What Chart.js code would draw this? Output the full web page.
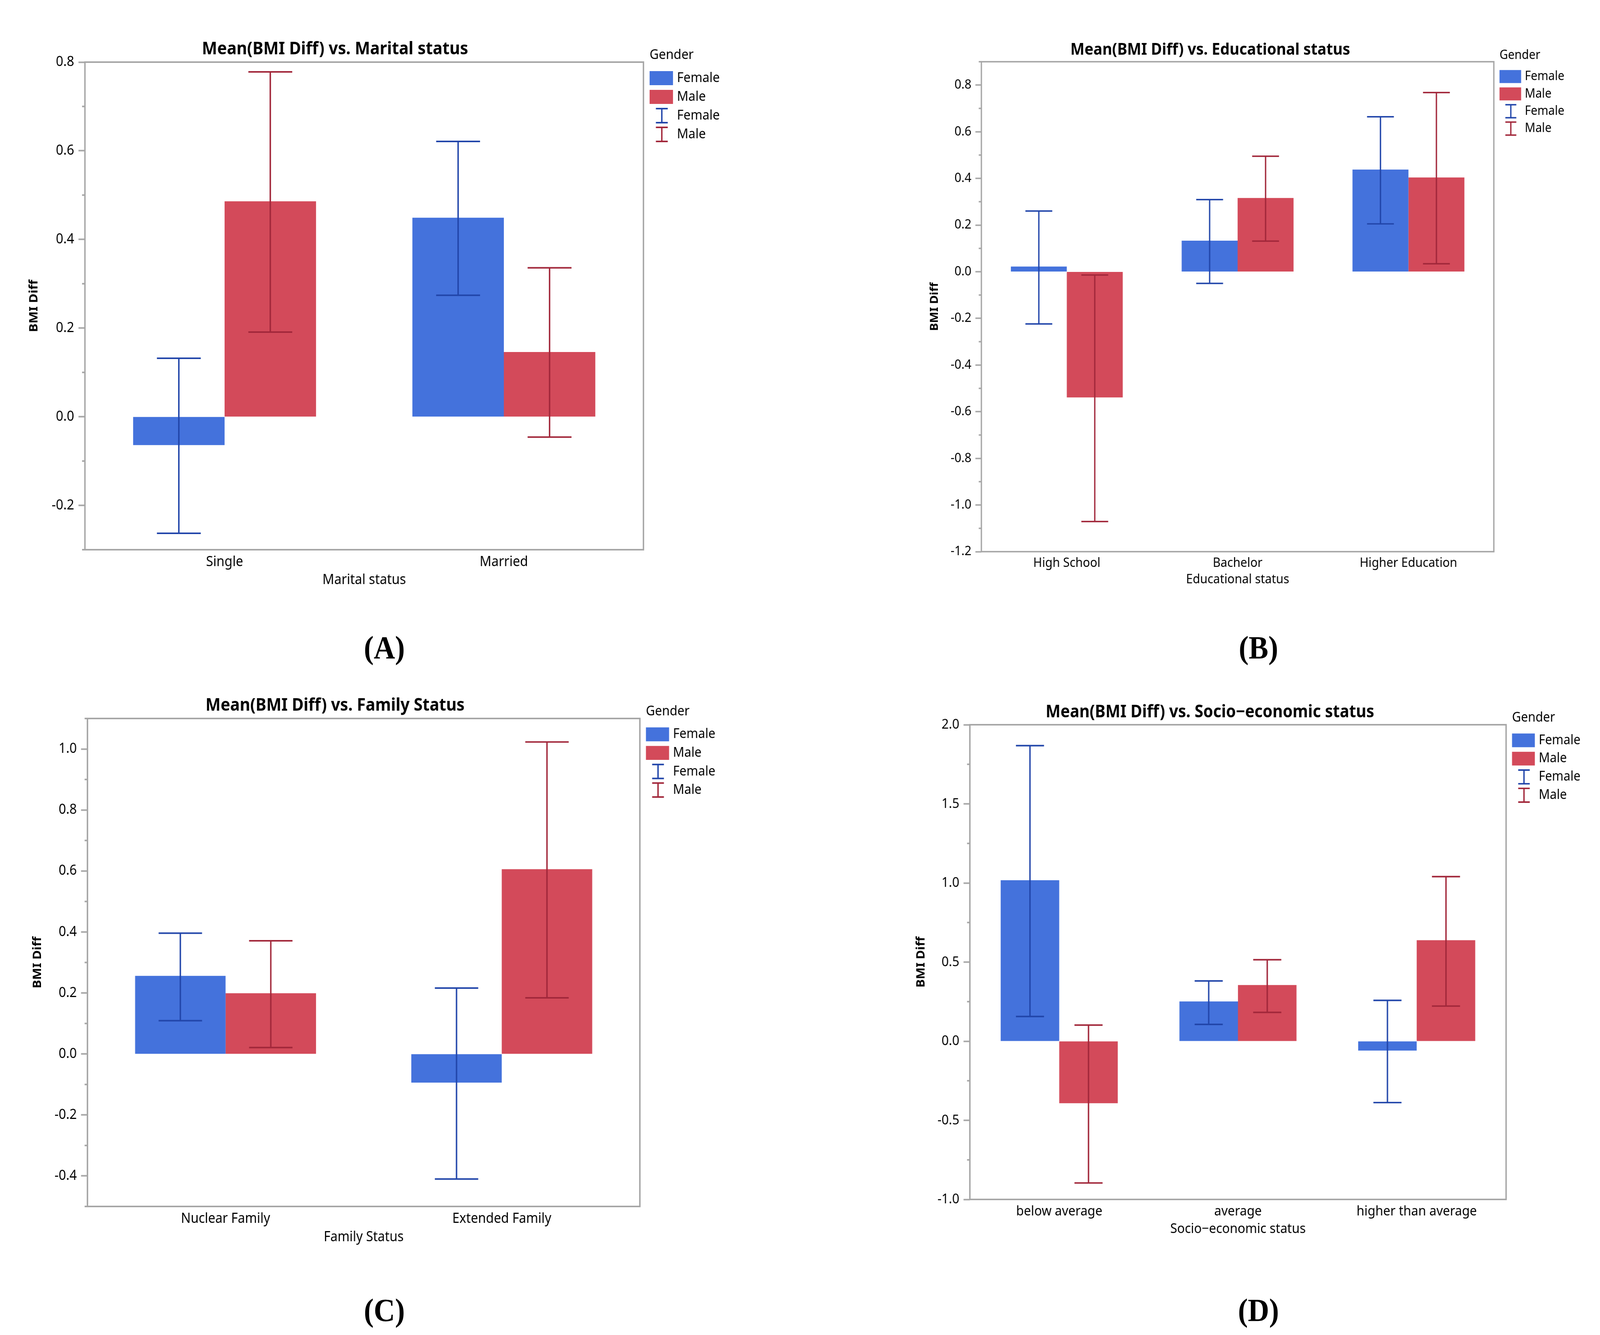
<!DOCTYPE html>
<html>
<head>
<meta charset="utf-8">
<script src="https://cdn.jsdelivr.net/npm/chart.js@4.4.1/dist/chart.umd.min.js"></script>
<style>
  html, body { margin: 0; padding: 0; background: #fff; overflow: hidden; }
  #outer { position: relative; overflow: hidden; background: #fff; }
  #page { width: 4446px; height: 3417px; position: absolute; left: 0; top: 0; transform-origin: 0 0; background: #fff; }
  .panel { position: absolute; }
  .tag { position: absolute; font: bold 82px "Liberation Serif", serif; line-height: 1; transform: translate(-50%, -50%); color: #000; }
</style>
</head>
<body>
<div id="outer">
<div id="page">
<div class="panel" style="left:0;top:0;width:2223px;height:1560px"><canvas id="chartA"></canvas></div>
<div class="panel" style="left:2223px;top:0;width:2223px;height:1560px"><canvas id="chartB"></canvas></div>
<div class="panel" style="left:0;top:1710px;width:2223px;height:1550px"><canvas id="chartC"></canvas></div>
<div class="panel" style="left:2223px;top:1710px;width:2223px;height:1550px"><canvas id="chartD"></canvas></div>
<div class="tag" style="left:1068px;top:1658px">(A)</div>
<div class="tag" style="left:3497px;top:1658px">(B)</div>
<div class="tag" style="left:1068px;top:3354px">(C)</div>
<div class="tag" style="left:3497px;top:3354px">(D)</div>
</div>
</div>
<script>
// the browser caps the window width, so stretch the 4446x3417 layout onto the real viewport
const fitX = window.innerWidth / 4446;
const fitY = window.innerHeight / 3417;
const outer = document.getElementById('outer');
outer.style.width = window.innerWidth + 'px';
outer.style.height = window.innerHeight + 'px';
document.getElementById('page').style.transform = 'scale(' + fitX + ',' + fitY + ')';

// --- data ---
const maritalCats = ['Single', 'Married'];
const maritalFemale = [-0.064, 0.449];
const maritalMale = [0.486, 0.146];
const maritalFemaleLo = [-0.263, 0.274];
const maritalFemaleHi = [0.132, 0.621];
const maritalMaleLo = [0.191, -0.046];
const maritalMaleHi = [0.778, 0.336];
const maritalTicks = [-0.2, 0.0, 0.2, 0.4, 0.6, 0.8];
const maritalMinor = [-0.3, -0.1, 0.1, 0.3, 0.5, 0.7];

const eduCats = ['High School', 'Bachelor', 'Higher Education'];
const eduFemale = [0.022, 0.133, 0.438];
const eduMale = [-0.539, 0.316, 0.404];
const eduFemaleLo = [-0.224, -0.050, 0.205];
const eduFemaleHi = [0.260, 0.309, 0.664];
const eduMaleLo = [-1.071, 0.131, 0.034];
const eduMaleHi = [-0.014, 0.495, 0.768];
const eduTicks = [-1.2, -1.0, -0.8, -0.6, -0.4, -0.2, 0.0, 0.2, 0.4, 0.6, 0.8];
const eduMinor = [-1.1, -0.9, -0.7, -0.5, -0.3, -0.1, 0.1, 0.3, 0.5, 0.7, 0.9];

const familyCats = ['Nuclear Family', 'Extended Family'];
const familyFemale = [0.256, -0.094];
const familyMale = [0.199, 0.606];
const familyFemaleLo = [0.109, -0.410];
const familyFemaleHi = [0.396, 0.216];
const familyMaleLo = [0.021, 0.184];
const familyMaleHi = [0.371, 1.023];
const familyTicks = [-0.4, -0.2, 0.0, 0.2, 0.4, 0.6, 0.8, 1.0];
const familyMinor = [-0.5, -0.3, -0.1, 0.1, 0.3, 0.5, 0.7, 0.9, 1.1];

const sesCats = ['below average', 'average', 'higher than average'];
const sesFemale = [1.017, 0.251, -0.059];
const sesMale = [-0.392, 0.355, 0.638];
const sesFemaleLo = [0.156, 0.106, -0.388];
const sesFemaleHi = [1.868, 0.381, 0.258];
const sesMaleLo = [-0.896, 0.182, 0.222];
const sesMaleHi = [0.102, 0.515, 1.040];
const sesTicks = [-1.0, -0.5, 0.0, 0.5, 1.0, 1.5, 2.0];
const sesMinor = [-0.75, -0.25, 0.25, 0.75, 1.25, 1.75];

const FEMALE_FILL = '#4472dc';
const MALE_FILL = '#d34a5a';
const FEMALE_ERR = '#2246aa';
const MALE_ERR = '#a2283b';
const GRAY = '#a6a6a6';
const FONT = '"Noto Sans", sans-serif';

Chart.defaults.font.family = FONT;
Chart.defaults.color = '#000';

function line(ctx, x1, y1, x2, y2) {
  ctx.beginPath();
  ctx.moveTo(x1, y1);
  ctx.lineTo(x2, y2);
  ctx.stroke();
}

// error bars, box, minor ticks, title and legend
const panelDecor = {
  id: 'panelDecor',
  afterDatasetsDraw(chart, args, o) {
    const ctx = chart.ctx;
    const ys = chart.scales.y;
    ctx.save();
    ctx.lineWidth = 4 * o.s;
    chart.data.datasets.forEach((ds, i) => {
      ctx.strokeStyle = ds.errColor;
      chart.getDatasetMeta(i).data.forEach((bar, j) => {
        const yLo = ys.getPixelForValue(ds.lo[j]);
        const yHi = ys.getPixelForValue(ds.hi[j]);
        const half = bar.width * 0.24;
        line(ctx, bar.x, yLo, bar.x, yHi);
        line(ctx, bar.x - half, yLo, bar.x + half, yLo);
        line(ctx, bar.x - half, yHi, bar.x + half, yHi);
      });
    });
    ctx.restore();
  },
  afterDraw(chart, args, o) {
    const {ctx, chartArea: a} = chart;
    const ys = chart.scales.y;
    const s = o.s;
    ctx.save();
    ctx.strokeStyle = GRAY;
    ctx.lineWidth = 4 * s;
    ctx.strokeRect(a.left, a.top, a.right - a.left, a.bottom - a.top);
    o.minor.forEach(v => {
      const py = ys.getPixelForValue(v);
      line(ctx, a.left - 8 * s, py, a.left, py);
    });

    ctx.fillStyle = '#000';
    ctx.textBaseline = 'middle';
    ctx.textAlign = 'center';
    ctx.font = 'bold ' + (45 * s) + 'px ' + FONT;
    ctx.fillText(o.title, o.titleX, o.titleY);

    // legend
    const lx = a.right + 17 * s;
    ctx.textAlign = 'left';
    ctx.font = (35 * s) + 'px ' + FONT;
    ctx.fillText('Gender', lx, a.top - 18 * s);
    const dsets = chart.data.datasets;
    const rowY = (k) => a.top + 41 * s + 48 * s * k;
    dsets.forEach((ds, i) => {
      const cy = rowY(i);
      ctx.fillStyle = ds.backgroundColor;
      ctx.fillRect(lx, cy - 18 * s, 65 * s, 36 * s);
      ctx.fillStyle = '#000';
      ctx.fillText(ds.label, lx + 76 * s, cy);
    });
    dsets.forEach((ds, i) => {
      const cy = rowY(i + dsets.length);
      ctx.strokeStyle = ds.errColor;
      ctx.lineWidth = 4 * s;
      const cx = lx + 34 * s;
      const hw = 16.5 * s, hh = 18 * s;
      line(ctx, cx, cy - hh, cx, cy + hh);
      line(ctx, cx - hw, cy - hh, cx + hw, cy - hh);
      line(ctx, cx - hw, cy + hh, cx + hw, cy + hh);
      ctx.fillStyle = '#000';
      ctx.fillText(ds.label, lx + 76 * s, cy);
    });
    ctx.restore();
  }
};

function makePanel(id, p, L) {
  const s = L.s;
  new Chart(document.getElementById(id), {
    type: 'bar',
    data: {
      labels: p.cats,
      datasets: [
        { label: 'Female', data: p.female, backgroundColor: FEMALE_FILL, lo: p.femaleLo, hi: p.femaleHi, errColor: FEMALE_ERR },
        { label: 'Male', data: p.male, backgroundColor: MALE_FILL, lo: p.maleLo, hi: p.maleHi, errColor: MALE_ERR },
      ],
    },
    options: {
      responsive: true,
      maintainAspectRatio: false,
      animation: false,
      layout: { padding: { left: 0, top: L.top, right: L.w - L.right, bottom: 0 } },
      datasets: { bar: { categoryPercentage: 0.655, barPercentage: 1 } },
      plugins: {
        legend: { display: false },
        tooltip: { enabled: false },
        panelDecor: { title: p.title, titleX: L.titleX, titleY: L.titleY, minor: p.minor, s: s },
      },
      scales: {
        x: {
          grid: { display: false, drawTicks: false },
          border: { display: false },
          ticks: { padding: 10, font: { size: 36 * s }, maxRotation: 0, autoSkip: false },
          title: { display: true, text: p.xTitle, font: { size: 36 * s }, padding: { top: 0, bottom: L.h - L.xTitleY - 21.6 * s } },
          afterFit: (sc) => { sc.height = L.h - L.bottom; },
        },
        y: {
          min: p.min,
          max: p.max,
          grid: { drawOnChartArea: false, tickLength: 18 * s, tickColor: GRAY, tickWidth: 4 * s },
          border: { display: false },
          ticks: { padding: 12 * s, font: { size: 36 * s }, callback: (v) => Number(v).toFixed(1) },
          afterBuildTicks: (sc) => { sc.ticks = p.ticks.map((v) => ({ value: v })); },
          title: { display: true, text: 'BMI Diff', font: { size: 33 * s, weight: 'bold' }, padding: { top: L.yTitleX - 19.8 * s, bottom: 0 } },
          afterFit: (sc) => { sc.width = L.left; },
        },
      },
    },
    plugins: [panelDecor],
  });
}

makePanel('chartA', {
  title: 'Mean(BMI Diff) vs. Marital status', xTitle: 'Marital status',
  cats: maritalCats, female: maritalFemale, male: maritalMale,
  femaleLo: maritalFemaleLo, femaleHi: maritalFemaleHi, maleLo: maritalMaleLo, maleHi: maritalMaleHi,
  min: -0.3, max: 0.8, ticks: maritalTicks, minor: maritalMinor,
}, { s: 1, w: 2223, h: 1560, left: 236, top: 159, right: 1788, bottom: 1407, titleX: 931, titleY: 126, yTitleX: 95, xTitleY: 1485 });

makePanel('chartB', {
  title: 'Mean(BMI Diff) vs. Educational status', xTitle: 'Educational status',
  cats: eduCats, female: eduFemale, male: eduMale,
  femaleLo: eduFemaleLo, femaleHi: eduFemaleHi, maleLo: eduMaleLo, maleHi: eduMaleHi,
  min: -1.2, max: 0.9, ticks: eduTicks, minor: eduMinor,
}, { s: 0.925, w: 2223, h: 1560, left: 504, top: 158, right: 1928, bottom: 1412, titleX: 1140, titleY: 128, yTitleX: 374, xTitleY: 1484 });

makePanel('chartC', {
  title: 'Mean(BMI Diff) vs. Family Status', xTitle: 'Family Status',
  cats: familyCats, female: familyFemale, male: familyMale,
  femaleLo: familyFemaleLo, femaleHi: familyFemaleHi, maleLo: familyMaleLo, maleHi: familyMaleHi,
  min: -0.5, max: 1.1, ticks: familyTicks, minor: familyMinor,
}, { s: 0.99, w: 2223, h: 1550, left: 243, top: 129, right: 1778, bottom: 1378, titleX: 931, titleY: 96, yTitleX: 105, xTitleY: 1457 });

makePanel('chartD', {
  title: 'Mean(BMI Diff) vs. Socio\u2212economic status', xTitle: 'Socio\u2212economic status',
  cats: sesCats, female: sesFemale, male: sesMale,
  femaleLo: sesFemaleLo, femaleHi: sesFemaleHi, maleLo: sesMaleLo, maleHi: sesMaleHi,
  min: -1.0, max: 2.0, ticks: sesTicks, minor: sesMinor,
}, { s: 0.975, w: 2223, h: 1550, left: 472, top: 145, right: 1962, bottom: 1360, titleX: 1139, titleY: 113, yTitleX: 337, xTitleY: 1436 });
</script>
</body>
</html>
